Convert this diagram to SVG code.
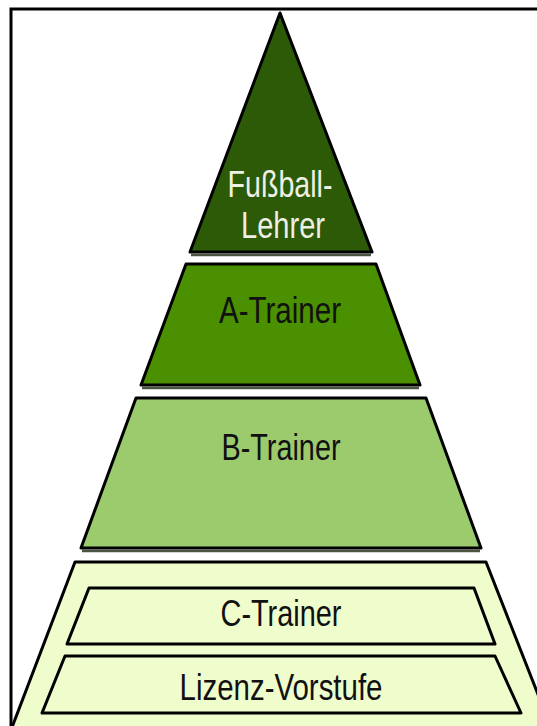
<svg xmlns="http://www.w3.org/2000/svg" width="537" height="726" viewBox="0 0 537 726">
<style>
.s{stroke:#000;stroke-width:3;stroke-linejoin:round}
.sh{stroke:#4b5440;stroke-width:2.5;fill:none}
.t{font-family:"Liberation Sans",Arial,sans-serif;font-size:36px;text-anchor:middle;fill:#111}
.w{fill:#eef0e4}
</style>
<rect x="0" y="0" width="537" height="726" fill="#fff"/>
<rect x="11" y="9" width="540" height="730" fill="none" stroke="#000" stroke-width="3"/>
<g id="connectors"></g>
<g id="base">
<polygon class="s" points="75,562 486,562 552,730 11,730" fill="#effccc"/>
</g>
<g id="lizenz">
<polygon class="s" points="65,656 495,656 521,713 42,713" fill="#effccc"/>
<text class="t" x="281" y="700" textLength="203" lengthAdjust="spacingAndGlyphs">Lizenz-Vorstufe</text>
</g>
<g id="ctrainer">
<polygon class="s" points="89,588 474,588 495,644 67,644" fill="#effccc"/>
<text class="t" x="281" y="626" textLength="121" lengthAdjust="spacingAndGlyphs">C-Trainer</text>
</g>
<g id="btrainer">
<line class="sh" x1="82" y1="551" x2="480" y2="551"/>
<polygon class="s" points="136,398 426,398 481,548 81,548" fill="#9ccb6e"/>
<text class="t" x="281" y="460" textLength="119" lengthAdjust="spacingAndGlyphs">B-Trainer</text>
</g>
<g id="atrainer">
<line class="sh" x1="142" y1="388" x2="419" y2="388"/>
<polygon class="s" points="186,264 376,264 420,385 141,385" fill="#4a9000"/>
<text class="t" x="280" y="323" textLength="122" lengthAdjust="spacingAndGlyphs">A-Trainer</text>
</g>
<g id="fussballlehrer">
<line class="sh" x1="191" y1="255" x2="371" y2="255"/>
<polygon class="s" points="280,13 372,252 190,252" fill="#2d5a06"/>
<text class="t w" x="280" y="197" textLength="105" lengthAdjust="spacingAndGlyphs">Fußball-</text>
<text class="t w" x="283" y="238" textLength="84" lengthAdjust="spacingAndGlyphs">Lehrer</text>
</g>
</svg>
